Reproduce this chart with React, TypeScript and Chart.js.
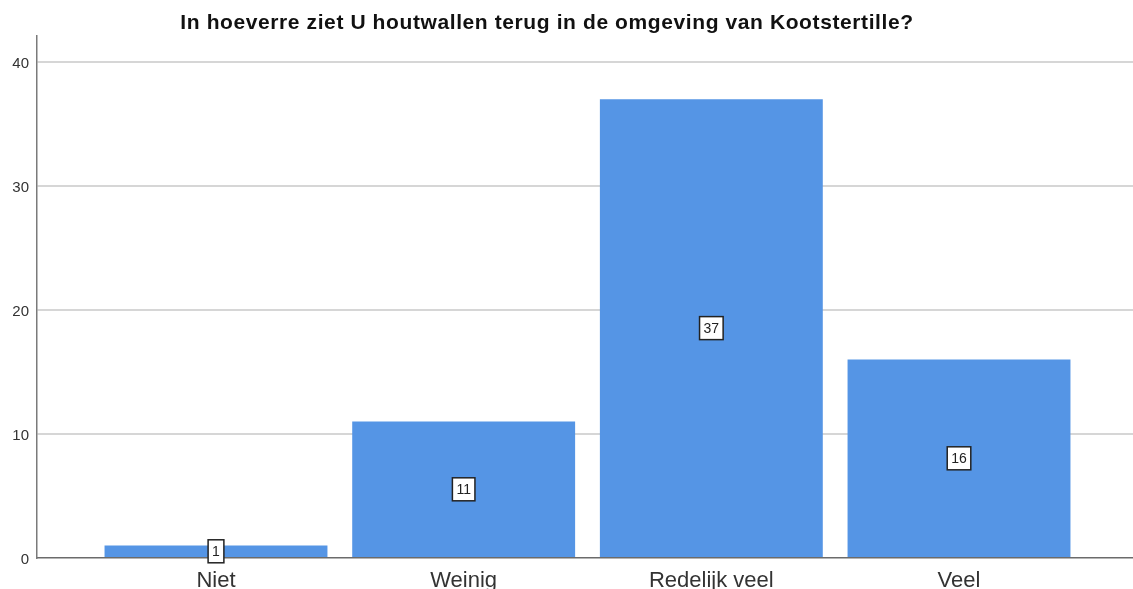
import React, { useEffect, useRef } from "react";
import { Chart, registerables } from "chart.js";

Chart.register(...registerables);

const TITLE = "In hoeverre ziet U houtwallen terug in de omgeving van Kootstertille?";
const categories = ["Niet", "Weinig", "Redelijk veel", "Veel"];
const counts = [1, 11, 37, 16];
const yTicks = [0, 10, 20, 30, 40];

const FONT = "Arial, 'Liberation Sans', sans-serif";

const titlePlugin = {
  id: "customTitle",
  afterDraw(chart: any) {
    const ctx = chart.ctx;
    ctx.save();
    ctx.font = `bold 21px ${FONT}`;
    try { (ctx as any).letterSpacing = "0.6px"; } catch (e) {}
    ctx.fillStyle = "#111";
    ctx.textAlign = "center";
    ctx.textBaseline = "alphabetic";
    ctx.fillText(TITLE, 547, 29);
    ctx.restore();
  },
};

const labelPlugin = {
  id: "boxLabels",
  afterDatasetsDraw(chart: any) {
    const ctx = chart.ctx;
    const meta = chart.getDatasetMeta(0);
    ctx.save();
    ctx.font = `14px ${FONT}`;
    ctx.textAlign = "center";
    ctx.textBaseline = "middle";
    meta.data.forEach((bar: any, i: number) => {
      const txt = String(counts[i]);
      const cx = bar.x;
      const cy = (bar.y + bar.base) / 2;
      const w = ctx.measureText(txt).width + 8;
      const h = 23;
      ctx.fillStyle = "#ffffff";
      ctx.fillRect(cx - w / 2, cy - h / 2, w, h);
      ctx.strokeStyle = "#222";
      ctx.lineWidth = 1.5;
      ctx.strokeRect(cx - w / 2, cy - h / 2, w, h);
      ctx.fillStyle = "#222";
      ctx.fillText(txt, cx, cy + 1);
    });
    ctx.restore();
  },
};

export default function App() {
  const ref = useRef<HTMLCanvasElement>(null);
  useEffect(() => {
    if (!ref.current) return;
    const chart = new Chart(ref.current, {
      type: "bar",
      data: {
        datasets: [
          {
            data: counts.map((v, i) => ({ x: i, y: v })),
            backgroundColor: "#5595e5",
            borderWidth: 0,
            categoryPercentage: 1,
            barPercentage: 0.9,
          } as any,
        ],
      },
      options: {
        animation: false,
        responsive: false,
        layout: { padding: { top: 36, left: 0, right: 0, bottom: 0 } },
        plugins: { legend: { display: false }, tooltip: { enabled: false }, title: { display: false } },
        scales: {
          x: {
            type: "linear",
            offset: false,
            min: -0.7227,
            max: 3.7025,
            afterBuildTicks: (scale: any) => {
              scale.ticks = categories.map((_, i) => ({ value: i }));
            },
            afterFit: (scale: any) => {
              scale.height = 31;
            },
            ticks: {
              callback: (v: any) => categories[Math.round(Number(v))] ?? "",
              font: { family: FONT, size: 22 },
              color: "#333",
              padding: 10,
              autoSkip: false,
              maxRotation: 0,
            },
            grid: { display: false, drawTicks: false, offset: false },
            border: { display: true, color: "#6b6b6b", width: 1.5 },
          },
          y: {
            min: 0,
            max: 42.1,
            afterBuildTicks: (scale: any) => {
              scale.ticks = yTicks.map((v) => ({ value: v }));
            },
            afterFit: (scale: any) => {
              scale.width = 37;
            },
            ticks: {
              font: { family: FONT, size: 15 },
              color: "#333",
              padding: 8,
              labelOffset: 2,
            },
            grid: {
              drawTicks: false,
              color: (c: any) => (c.tick && c.tick.value === 0 ? "rgba(0,0,0,0)" : "#d6d6d6"),
              lineWidth: 2,
            },
            border: { display: true, color: "#7a7a7a", width: 1.5 },
          },
        },
      },
      plugins: [titlePlugin, labelPlugin],
    });
    return () => chart.destroy();
  }, []);
  return (
    <div style={{ position: "fixed", left: 0, top: 0, width: 1133, height: 589, background: "#fff" }}>
      <canvas ref={ref} width={1133} height={589} style={{ width: 1133, height: 589, display: "block" }} />
    </div>
  );
}
